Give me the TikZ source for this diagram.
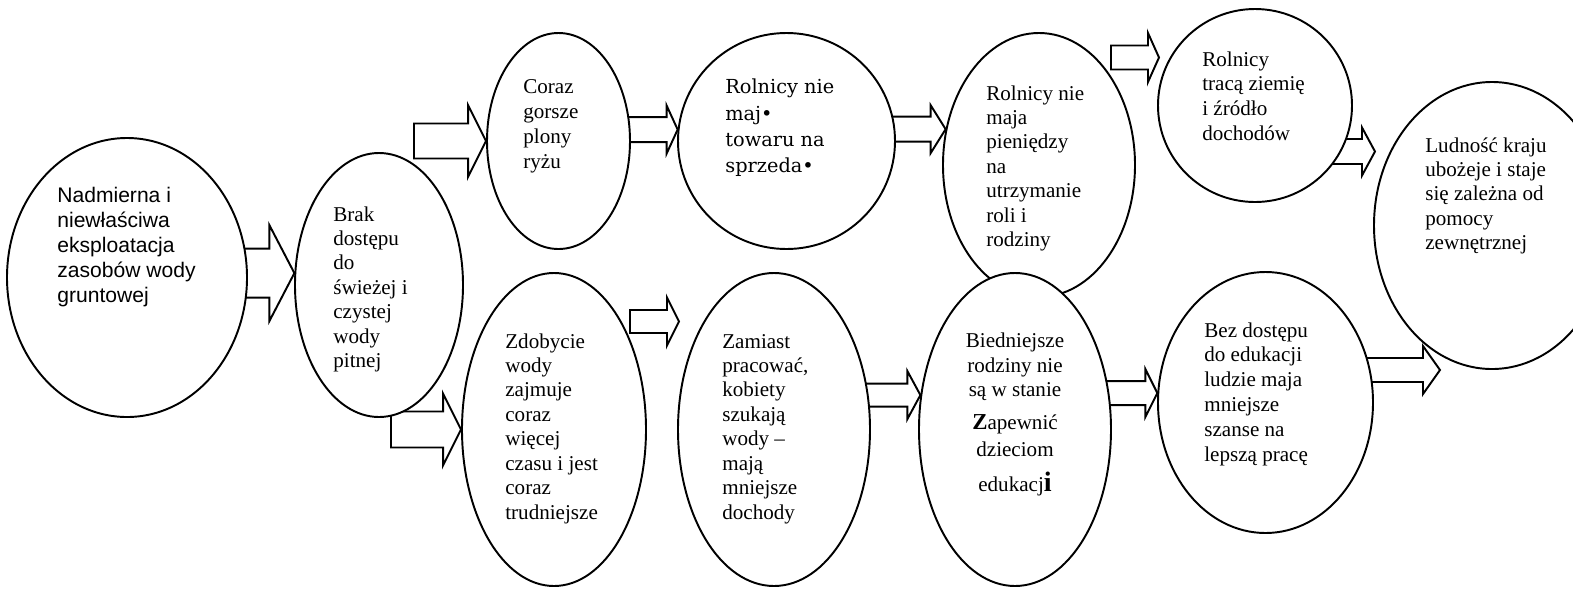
\documentclass[tikz,border=0pt]{standalone}
\usepackage{fontspec}
\setmainfont{Liberation Serif}
\newfontfamily\arialfont{Liberation Sans}
\newfontfamily\centfont{DejaVu Serif}
\usetikzlibrary{shapes.geometric,calc,backgrounds}
\tikzset{
  bubble/.style 2 args={ellipse, draw, fill=white, line width=1.1pt, inner sep=0pt,
    minimum width=#1*0.02cm, minimum height=#2*0.02cm},
  txt/.style={inner sep=0pt, anchor=base west, align=left, font=\fontsize{12}{13.9}\selectfont},
  bigarr/.style={draw, fill=white, line width=1.1pt, line join=miter}
}
% start, tip, half shaft, half head, head length (px)
\newcommand{\bigarrow}[5]{%
  \draw[bigarr] let \p1=(#1), \p2=(#2) in
    (\p2) -- ++(-#5,-#4) -- ++(0,#4-#3) -- ($(\x1,\y2)+(0,-#3)$)
    -- ++(0,2*#3) -- ($(\p2)+(-#5,#3)$) -- ++(0,#4-#3) -- cycle;
}

\begin{document}
\begin{tikzpicture}[x=0.02cm, y=-0.02cm]
  \useasboundingbox (0,0) rectangle (1573,596);

  % --- elipsy ---
  \node[bubble={240}{279}] (nadm) at (127,277.5) {};
  \node[bubble={168}{264}] (brak) at (379,285) {};
  \node[bubble={143}{216}] (coraz) at (558.5,141) {};
  \node[bubble={217}{216}] (towar) at (786.5,141) {};
  \node[bubble={192}{264}] (pien) at (1039,165) {};
  \node[bubble={194}{193}] (ziemia) at (1255,105.5) {};
  \node[bubble={236}{287}] (ludn) at (1492,225.5) {};
  \node[bubble={184}{313}] (zdob) at (554,429.5) {};
  \node[bubble={192}{313}] (zamiast) at (774,429.5) {};
  \node[bubble={192}{313}] (bied) at (1015,429.5) {};
  \node[bubble={215}{261}] (bez) at (1265.5,402.5) {};

  % --- wolne konce strzalek ---
  \coordinate (a2s) at (414,141.5);
  \coordinate (a5s) at (1111,57.5);
  \coordinate (a5t) at (1159,57.5);
  \coordinate (a6t) at (1375,151.5);
  \coordinate (a7s) at (391,430);
  \coordinate (a8s) at (630,321.5);
  \coordinate (a8t) at (679,321.5);
  \coordinate (a11t) at (1440,370);

  % --- strzalki ---
  \begin{scope}[on background layer]
    \bigarrow{nadm.center}{brak.172}{24.5}{48}{25}
    \bigarrow{a2s}{coraz.west}{17.5}{36}{18}
    \bigarrow{coraz.center}{towar.174}{12.5}{24}{11}
    \bigarrow{towar.center}{pien.159}{12.5}{24}{15}
    \bigarrow{a5s}{a5t}{12}{24.5}{11}
    \bigarrow{ziemia.center}{a6t}{12.5}{24}{13}
    \bigarrow{a7s}{zdob.west}{18}{36}{18}
    \bigarrow{a8s}{a8t}{11.5}{24}{12}
    \bigarrow{zamiast.center}{bied.160}{11.5}{24}{13}
    \bigarrow{bied.center}{bez.175}{12}{24}{12}
    \bigarrow{bez.center}{a11t}{12}{24}{17}
  \end{scope}

  % --- teksty (punkt = linia bazowa ostatniego wiersza) ---
  \node[txt, font=\arialfont\fontsize{12}{14.2}\selectfont] (nadmT) at (57,302)
    {Nadmierna i\\niewłaściwa\\eksploatacja\\zasobów wody\\gruntowej};
  \node[txt] (brakT) at (333,367.6)
    {Brak\\dostępu\\do\\świeżej i\\czystej\\wody\\pitnej};
  \node[txt, font=\fontsize{12}{14.2}\selectfont] (corazT) at (523,168)
    {Coraz\\gorsze\\plony\\ryżu};
  \node[txt, font=\centfont\fontsize{11}{14.8}\selectfont] (towarT) at (725,172)
    {Rolnicy nie\\maj•\\towaru na\\sprzeda•};
  \node[txt] (pienT) at (986,246.6)
    {Rolnicy nie\\maja\\pieniędzy\\na\\utrzymanie\\roli i\\rodziny};
  \node[txt, font=\fontsize{12}{14}\selectfont] (ziemiaT) at (1202,140)
    {Rolnicy\\tracą ziemię\\i źródło\\dochodów};
  \node[txt] (ludnT) at (1425,249.7)
    {Ludność kraju\\ubożeje i staje\\się zależna od\\pomocy\\zewnętrznej};
  \node[txt] (zdobT) at (505,519)
    {Zdobycie\\wody\\zajmuje\\coraz\\więcej\\czasu i jest\\coraz\\trudniejsze};
  \node[txt] (zamiastT) at (722,519)
    {Zamiast\\pracować,\\kobiety\\szukają\\wody –\\mają\\mniejsze\\dochody};
  \node[txt, anchor=base, align=center] (biedT) at (1015,491)
    {Biedniejsze\\rodziny nie\\są w stanie\\[4.9pt]{\fontsize{13}{13}\selectfont\bfseries Z}apewnić\\[1.5pt]dzieciom\\[5.5pt]edukacj{\fontsize{16}{16}\selectfont\bfseries i}};
  \node[txt, font=\fontsize{12}{14.1}\selectfont] (bezT) at (1204,461)
    {Bez dostępu\\do edukacji\\ludzie maja\\mniejsze\\szanse na\\lepszą pracę};
\end{tikzpicture}
\end{document}
